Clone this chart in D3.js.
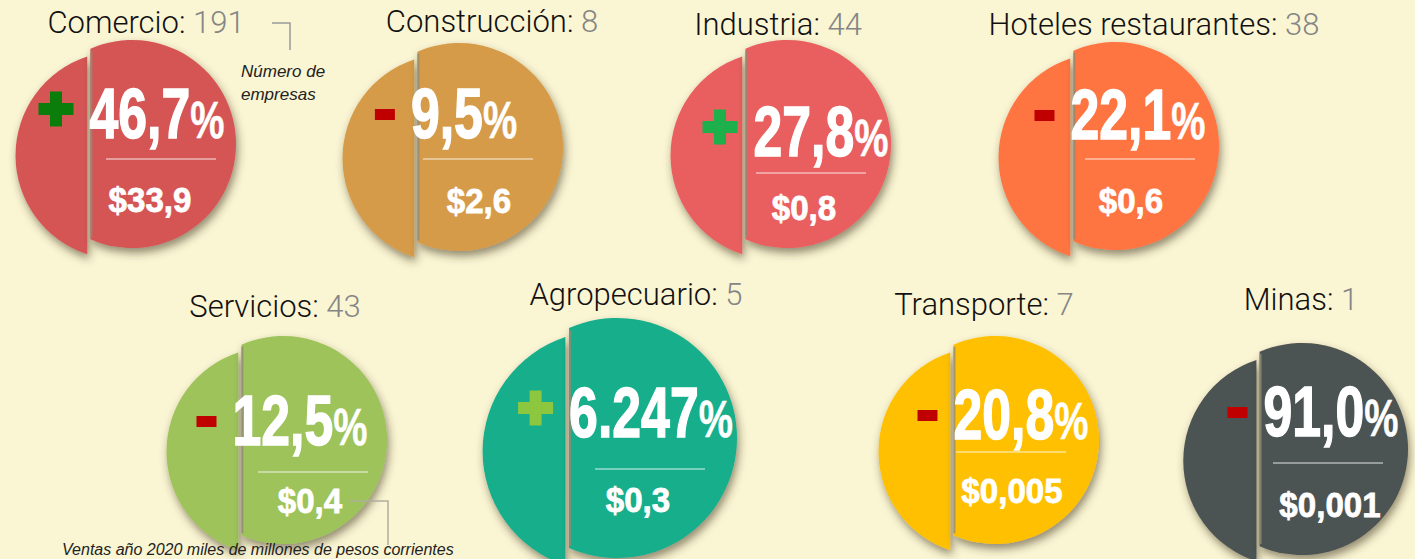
<!DOCTYPE html>
<html>
<head>
<meta charset="utf-8">
<script src="https://cdn.jsdelivr.net/npm/d3@7"></script>
<style>
  body { margin: 0; background: #faf5d3; }
  svg { display: block; }
</style>
</head>
<body>
<svg id="chart" width="1415" height="559"></svg>
<script>
const sectores = ["Comercio", "Construcción", "Industria", "Hoteles restaurantes",
                  "Servicios", "Agropecuario", "Transporte", "Minas"];
const empresas = [191, 8, 44, 38, 43, 5, 7, 1];
const variacion = [46.7, -9.5, 27.8, -22.1, -12.5, 6247, -20.8, -91.0]; // % variación
const ventas = [33.9, 2.6, 0.8, 0.6, 0.4, 0.3, 0.005, 0.001];          // miles de millones

// styles
const colores = ["#d55555", "#d69b48", "#e95f5f", "#ff7443", "#9dc35a", "#14ae8b", "#fec000", "#4c5352"];
const signoColor = ["#0a7d0a", "#c00000", "#1db04b", "#c00000", "#c00000", "#8dc63f", "#c00000", "#c00000"];

// hand placed layout of the infographic (circle centre, radius, text anchors)
const layout = [
  { cx: 132,  cy: 144, r: 104, lx: 146,  ly: 33,  px: 157,  py: 138, rx: 161,  ry: 159, vx: 150,  vy: 212 },
  { cx: 459,  cy: 147, r: 104, lx: 492,  ly: 32,  px: 464,  py: 138, rx: 478,  ry: 159, vx: 479,  vy: 213 },
  { cx: 787,  cy: 144, r: 104, lx: 778,  ly: 35,  px: 821,  py: 156, rx: 811,  ry: 173, vx: 804,  vy: 220 },
  { cx: 1115, cy: 146, r: 104, lx: 1154, ly: 35,  px: 1138, py: 139, rx: 1140, ry: 159, vx: 1131, vy: 213 },
  { cx: 283,  cy: 440, r: 104, lx: 275,  ly: 317, px: 300,  py: 445, rx: 313,  ry: 472, vx: 310,  vy: 513 },
  { cx: 617,  cy: 438, r: 120, lx: 636,  ly: 305, px: 651,  py: 437, rx: 650,  ry: 469, vx: 638,  vy: 512 },
  { cx: 995,  cy: 440, r: 104, lx: 984,  ly: 315, px: 1021, py: 439, rx: 1011, ry: 452, vx: 1012, vy: 503 },
  { cx: 1302, cy: 449, r: 106, lx: 1301, ly: 310, px: 1331, py: 436, rx: 1328, ry: 463, vx: 1330, vy: 517 }
];

const es = d3.formatLocale({ decimal: ",", thousands: ".", grouping: [3], currency: ["$", ""] });
const fmtPct = v => Math.abs(v) >= 1000 ? es.format(",.0f")(Math.abs(v)) : es.format(".1f")(Math.abs(v));
const fmtVentas = v => "$" + es.format(".3~f")(v);

const color = d3.scaleOrdinal().domain(sectores).range(colores);

const rows = sectores.map((s, i) => ({
  sector: s, empresas: empresas[i], variacion: variacion[i], ventas: ventas[i],
  signo: signoColor[i], ...layout[i]
}));

const svg = d3.select("#chart");

const defs = svg.append("defs");
const shadow = defs.append("filter").attr("id", "sombra")
    .attr("x", "-20%").attr("y", "-20%").attr("width", "140%").attr("height", "140%");
shadow.append("feDropShadow")
    .attr("dx", 2).attr("dy", 5).attr("stdDeviation", 4)
    .attr("flood-color", "#3d3520").attr("flood-opacity", 0.55);

// segment of a circle cut by a vertical chord at x = -d
const segment = (r, d, right) => {
  const h = Math.sqrt(r * r - d * d);
  return right
    ? `M${-d},${-h}A${r},${r} 0 1 1 ${-d},${h}Z`
    : `M${-d},${-h}A${r},${r} 0 0 0 ${-d},${h}Z`;
};

const g = svg.selectAll("g.sector")
  .data(rows)
  .enter().append("g")
    .attr("class", "sector");

// left slice, dropped a little
g.append("path")
    .attr("transform", d => `translate(${d.cx - 0.12 * d.r},${d.cy + 0.11 * d.r})`)
    .attr("d", d => segment(d.r, 0.31 * d.r, false))
    .attr("fill", d => color(d.sector))
    .attr("filter", "url(#sombra)");

// right slice
g.append("path")
    .attr("transform", d => `translate(${d.cx},${d.cy})`)
    .attr("d", d => segment(d.r, 0.4 * d.r, true))
    .attr("fill", d => color(d.sector))
    .attr("filter", "url(#sombra)");

// grey edge of the cut
g.append("line")
    .attr("x1", d => d.cx - 0.4 * d.r + 1)
    .attr("x2", d => d.cx - 0.4 * d.r + 1)
    .attr("y1", d => d.cy - Math.sqrt(d.r * d.r - 0.16 * d.r * d.r) + 2)
    .attr("y2", d => d.cy + Math.sqrt(d.r * d.r - 0.16 * d.r * d.r) - 2)
    .attr("stroke", "#8f8b75")
    .attr("stroke-opacity", 0.8)
    .attr("stroke-width", 2);

// titles
const title = g.append("text")
    .attr("x", d => d.lx)
    .attr("y", d => d.ly)
    .attr("text-anchor", "middle")
    .style("font-family", "Roboto, 'Liberation Sans', sans-serif")
    .style("font-weight", 300)
    .style("font-size", "31px");
title.append("tspan").attr("fill", "#111").text(d => d.sector + ": ");
title.append("tspan").attr("fill", "#858585").text(d => d.empresas);

// big percentage, condensed
const sx = 0.74;
const pct = g.append("text")
    .attr("transform", d => `translate(${d.px},${d.py}) scale(${sx},1)`)
    .attr("text-anchor", "middle")
    .attr("fill", "#fff")
    .attr("stroke", "#fff")
    .attr("stroke-width", 1.5)
    .style("font-family", "'Liberation Sans', sans-serif")
    .style("font-weight", 700);
pct.append("tspan").style("font-size", "70px").text(d => fmtPct(d.variacion));
pct.append("tspan").style("font-size", "52px").attr("stroke-width", 0.5).text("%");

// sign in front of the percentage
pct.each(function(d) {
  const left = d.px - this.getComputedTextLength() * sx / 2;
  const sg = d3.select(this.parentNode).append("g").attr("fill", d.signo);
  if (d.variacion > 0) {
    const cx = left - 16 - 17.5, cy = d.py - 29;
    sg.append("rect").attr("x", cx - 17.5).attr("y", cy - 6).attr("width", 35).attr("height", 12);
    sg.append("rect").attr("x", cx - 6).attr("y", cy - 17.5).attr("width", 12).attr("height", 35);
  } else {
    sg.append("rect").attr("x", left - 16 - 20).attr("y", d.py - 29).attr("width", 20).attr("height", 11);
  }
});

// rule
g.append("line")
    .attr("x1", d => d.rx - 55).attr("x2", d => d.rx + 55)
    .attr("y1", d => d.ry).attr("y2", d => d.ry)
    .attr("stroke", "#fff")
    .attr("stroke-opacity", 0.85)
    .attr("stroke-width", 1);

// sales
g.append("text")
    .attr("transform", d => `translate(${d.vx},${d.vy}) scale(0.92,1)`)
    .attr("text-anchor", "middle")
    .attr("fill", "#fff")
    .attr("stroke", "#fff")
    .attr("stroke-width", 0.8)
    .style("font-family", "'Liberation Sans', sans-serif")
    .style("font-weight", 700)
    .style("font-size", "36px")
    .text(d => fmtVentas(d.ventas));

// notes
svg.append("path")
    .attr("d", "M272,23H290V50")
    .attr("fill", "none").attr("stroke", "#9a9a9a").attr("stroke-width", 1.5);
const nota = svg.append("text")
    .attr("x", 241).attr("y", 77)
    .attr("fill", "#222")
    .style("font-family", "'Liberation Sans', sans-serif")
    .style("font-style", "italic")
    .style("font-size", "17px");
nota.append("tspan").text("Número de");
nota.append("tspan").attr("x", 241).attr("dy", 23).text("empresas");

svg.append("path")
    .attr("d", "M350,501H388V545")
    .attr("fill", "none").attr("stroke", "#b0ada0").attr("stroke-width", 1.5);
svg.append("text")
    .attr("x", 62).attr("y", 555)
    .attr("fill", "#222")
    .style("font-family", "'Liberation Sans', sans-serif")
    .style("font-style", "italic")
    .style("font-size", "16px")
    .text("Ventas año 2020 miles de millones de pesos corrientes");
</script>
</body>
</html>
